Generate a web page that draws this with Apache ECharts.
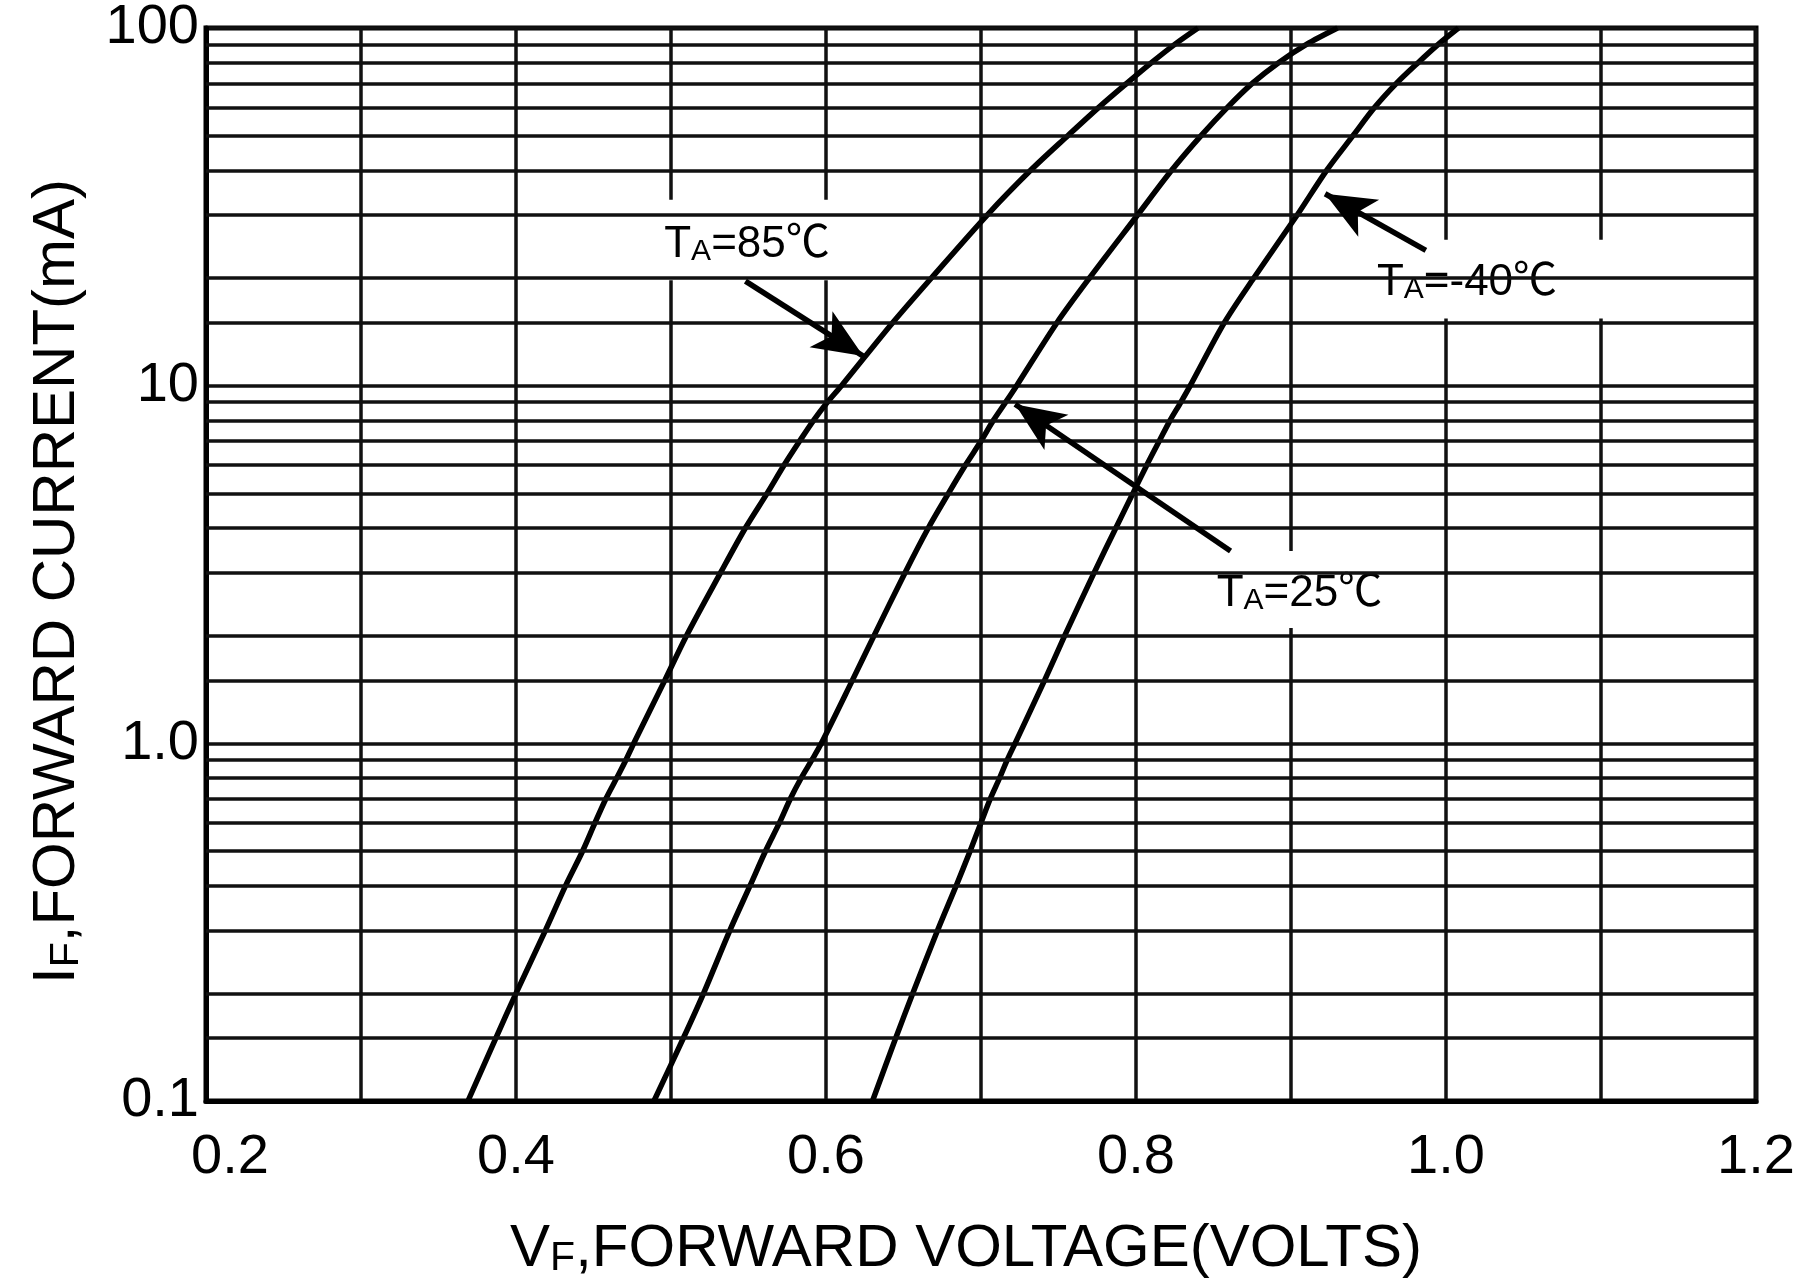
<!DOCTYPE html>
<html><head><meta charset="utf-8">
<script src="https://cdn.jsdelivr.net/npm/echarts@6/dist/echarts.min.js"></script>
<style>html,body{margin:0;padding:0;background:#fff}#c{width:1799px;height:1286px}</style>
</head><body><div id="c"></div>
<script>
// ---- data ----
const currents = [0.1,0.15,0.2,0.3,0.4,0.5,0.6,0.7,0.8,0.9,1,1.5,2,3,4,5,6,7,8,9,10,15,20,30,40,50,60,70,80,90,100];
const vf85  = [0.369,0.387,0.400,0.419,0.432,0.443,0.451,0.458,0.465,0.471,0.476,0.496,0.510,0.532,0.548,0.562,0.573,0.583,0.592,0.601,0.610,0.643,0.668,0.704,0.732,0.756,0.776,0.794,0.810,0.825,0.840];
const vf25  = [0.489,0.508,0.521,0.538,0.551,0.561,0.570,0.577,0.584,0.591,0.597,0.617,0.631,0.651,0.666,0.679,0.690,0.700,0.708,0.716,0.723,0.749,0.770,0.801,0.823,0.842,0.859,0.875,0.892,0.910,0.930];
const vfm40 = [0.630,0.645,0.656,0.672,0.684,0.693,0.700,0.706,0.712,0.717,0.722,0.741,0.754,0.773,0.787,0.798,0.807,0.815,0.822,0.829,0.835,0.857,0.876,0.904,0.923,0.940,0.954,0.968,0.982,0.995,1.008];
const seriesTemps = ['85','25','-40'];
const xTickValues = [0.2,0.4,0.6,0.8,1.0,1.2];
const xTickLabels = ['0.2','0.4','0.6','0.8','1.0','1.2'];
const yTickValues = [0.1,1,10,100];
const yTickLabels = ['0.1','1.0','10','100'];
const minorMultipliers = [1.5,2,3,4,5,6,7,8,9];
const decades = [0.1,1,10];
// annotation anchors (data space: [volts, mA])
const arrowFrom = [[0.548,19.6],[0.861,3.45],[0.987,23.9]];
const arrowTo   = [[0.624,12.1],[0.722,8.87],[0.922,34.4]];
const boxX = [[0.4626,0.6187],[0.822,0.994],[0.9445,1.1187]];
const boxY = [[19.7,33.1],[2.1,3.45],[15.4,25.6]];

const FONT = "'Liberation Sans', Arial, 'Noto Sans CJK SC', sans-serif";
const hGrid = [];
decades.forEach(d => minorMultipliers.forEach(m => hGrid.push(+(d*m).toPrecision(3))));

const labelOffsets = [[13,2],[-4,1],[-28,1]];
const tRich = {
  t: {fontFamily: FONT, fontSize: 44, color: '#000', lineHeight: 50, verticalAlign: 'bottom'},
  s: {fontFamily: FONT, fontSize: 30, color: '#000', lineHeight: 40, verticalAlign: 'bottom'}
};

const chart = echarts.init(document.getElementById('c'), null, {renderer: 'canvas'});
const curves = [vf85, vf25, vfm40].map((vf, k) => ({
  type: 'line', name: 'TA=' + seriesTemps[k] + '℃', z: 4,
  data: currents.map((c, i) => [vf[i], c]),
  showSymbol: false, smooth: 0.3, clip: true,
  lineStyle: {color: '#000', width: 5.5}
}));

const option = {
  animation: false,
  backgroundColor: '#fff',
  grid: {left: 206, right: 43, top: 20, bottom: 185, show: true, borderColor: '#000', borderWidth: 5, backgroundColor: 'transparent'},
  xAxis: {
    type: 'value', min: 0.2, max: 1.2, interval: 0.1,
    axisLine: {show: true, onZero: false, lineStyle: {color: '#000', width: 5}},
    axisTick: {show: false},
    splitLine: {show: true, lineStyle: {color: '#111', width: 3.5}},
    axisLabel: {
      margin: 29, color: '#000', fontFamily: FONT, fontSize: 56,
      formatter: v => {
        const i = xTickValues.findIndex(t => Math.abs(t - v) < 1e-6);
        if (i < 0) return '';
        return i === 0 ? '{first|' + xTickLabels[i] + '}' : '{n|' + xTickLabels[i] + '}';
      },
      rich: {
        first: {fontFamily: FONT, fontSize: 56, color: '#000', padding: [0,0,0,48]},
        n: {fontFamily: FONT, fontSize: 56, color: '#000'}
      }
    },
    name: 'V{s|F},FORWARD VOLTAGE(VOLTS)', nameLocation: 'middle', nameGap: 118,
    nameTextStyle: {
      color: '#000', fontFamily: FONT, fontSize: 60, padding: [0, 30, 0, 0],
      rich: {
        s: {fontFamily: FONT, fontSize: 41, color: '#000', lineHeight: 55, verticalAlign: 'bottom'}
      }
    }
  },
  yAxis: {
    type: 'log', logBase: 10, min: 0.1, max: 100,
    axisLine: {show: true, lineStyle: {color: '#000', width: 5}},
    axisTick: {show: false},
    splitLine: {show: true, lineStyle: {color: '#111', width: 3.5}},
    minorSplitLine: {show: false},
    axisLabel: {
      margin: 7, color: '#000', fontFamily: FONT, fontSize: 56,
      formatter: v => {
        const i = yTickValues.findIndex(t => Math.abs(Math.log10(t) - Math.log10(v)) < 1e-6);
        return i < 0 ? '' : yTickLabels[i];
      }
    },
    name: 'I{s|F},FORWARD CURRENT(mA)', nameLocation: 'middle', nameGap: 119, nameRotate: 90,
    nameTextStyle: {
      color: '#000', fontFamily: FONT, fontSize: 60, padding: [0, 34, 0, 0],
      rich: {
        s: {fontFamily: FONT, fontSize: 41, color: '#000', lineHeight: 55, verticalAlign: 'bottom'}
      }
    }
  },
  series: [
    {
      type: 'line', name: 'hgrid', data: [], z: 1, silent: true,
      markLine: {
        silent: true, symbol: ['none', 'none'], label: {show: false}, animation: false,
        emphasis: {disabled: true},
        lineStyle: {color: '#111', width: 3.5, type: 'solid'},
        data: hGrid.map(v => ({yAxis: v}))
      }
    },
    {
      type: 'line', name: 'boxes', data: [], z: 3, silent: true,
      markArea: {
        silent: true, animation: false,
        itemStyle: {color: '#fff', opacity: 1, borderWidth: 0},
        emphasis: {disabled: true},
        data: boxX.map((bx, k) => [
          {coord: [bx[0], boxY[k][1]],
           label: {show: true, position: 'inside', offset: labelOffsets[k],
                   formatter: '{t|T}{s|A}{t|=' + seriesTemps[k] + '℃}', rich: tRich}},
          {coord: [bx[1], boxY[k][0]]}
        ])
      }
    },
    ...curves,
    {
      type: 'line', name: 'arrows', data: [], z: 5, silent: true,
      markLine: {
        silent: true, animation: false, label: {show: false},
        symbol: ['none', 'arrow'], symbolSize: [32, 50],
        emphasis: {disabled: true},
        lineStyle: {color: '#000', width: 5.5, type: 'solid'},
        data: arrowFrom.map((f, k) => [{coord: f}, {coord: arrowTo[k]}])
      }
    }
  ]
};
chart.setOption(option);
</script>
</body></html>
